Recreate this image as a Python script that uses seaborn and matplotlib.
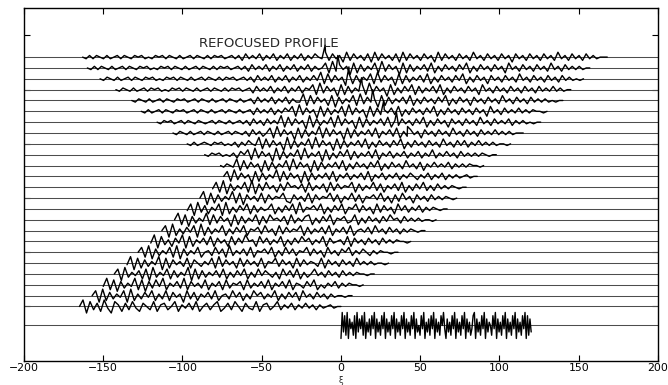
import numpy as np
import pandas as pd
import matplotlib
matplotlib.use("Agg")
import matplotlib.pyplot as plt
import seaborn as sns

# ---------------- data (read / estimated from the reference) ----------------
x_ticks = [-200, -150, -100, -50, 0, 50, 100, 150, 200]
y_ticks = [5, 10, 15, 20, 25, 30]

# random initial profile (bottom)
noise_offset = 3.25
noise_start, noise_end = 0, 120
noise_digits = ("19382917462819374829163728491736284917362849173628491736284917352849"
                "16372849173628594173628491736284917362489173628491736528491736284917"
                "3628491736284918273")

# 24 propagated profiles (bottom -> top)
trace_offsets = [5, 6, 7, 8, 9, 10, 11, 12, 13, 14, 15, 16, 17, 18, 19, 20,
                 21, 22, 23, 24, 25, 26, 27, 28]
trace_starts = [-165, -157, -150, -143, -135, -128, -120, -113, -105, -97, -89, -81,
                -74, -76, -86, -97, -106, -116, -126, -132, -142, -152, -160, -163]
trace_edges = [-165, -157, -150, -143, -135, -128, -120, -113, -105, -97, -89, -81,
               -74, -68, -61, -54, -47, -40, -33, -26, -20, -15, -12, -12]
trace_ends = [0, 7, 14, 21, 30, 36, 44, 53, 60, 67, 73, 79,
              86, 90, 98, 107, 115, 126, 130, 140, 145, 153, 157, 168]

quiet_digits = [
    "", "", "", "", "", "", "", "", "", "", "", "", "",
    "5465",
    "54656454637",
    "54645654656454636475",
    "546546456465464564654637463",
    "54656456465465456465464564637463746",
    "546456465465645646546456465464563746473647",
    "546546456465465645646546456465464563746473647364",
    "5465464564656454656465464564654646564563746473647364736",
    "54654645646546564546564654645646546465645646374647364736473647",
    "5464654645646546564546564654645646546465645646374647364736473647364",
    "546465464564654656454656465464564654646564564637464736473647364736475",
]

main_digits = [
    "591837294186273842753826735826473825736824738527438267358364736474636456455",
    "581927364819263748263827461837264738256384726385736482637472846374636455455",
    "492817364928173849264739274638264728365728364738264738265374825364736465545",
    "581936472819364827364918273647382637482638475362847382635846374637464655455",
    "491827364918274638275364829374628374638265837462837465382746374638464645545",
    "582917364829173648256384729364738265748263847365837462846375836475364655455",
    "491836274918264738274628374956284736482637485736482745638274637463746465545",
    "581926374819273648263748265738462837465827364738264738256473846374636465455",
    "592817364928374618273648273856472836478263748265734826374637485637464645545",
    "481937264819263748273645826374829365748263748265837462837462847364736465455",
    "591827364928174638274658327463827465837264837265748362738462746374646545",
    "482917364829173846273856472836472837465827364837264738263748363746465455",
    "5829374618273649283746182736473826473647382647364736475364736473646456455",
    "492837461827364829374618273647382637463748263746384637264746473646465545",
    "582937461927364829364718263748273647382647364736473648364746374646465455",
    "4928374619273648293746182736473826374637482637463746384637473647464645545",
    "58293746182736492837461827364738264738263746274637463846374637464746464555",
    "492837461927364829374618273647382637463748263746274637463846374647364645455",
    "58293746182736482937461827364738263746374826374637463746284637464746465545",
    "492837462817364829374618273647382637463748263746274637463846374637464645455",
    "582937461827364829374618263748273647382637463746284637463746374637464746455",
    "4928374618273648293746182736473826374637482637462746374638463746374637464545",
    "58293746182736482937461827364738263746374826374637462846374637463846374646455",
    "4837462837463728374637283746374628374637463846374637462746374637463846374637464555",
]

# sharp refocusing peaks on the upper profiles
spike_trace = [16, 17, 18, 19, 20, 21, 22, 23]
spike_x = [42, 35, 27, 20, 13, 5, -2, -10]
spike_h = [0.6, 0.9, 1.0, 1.0, 1.1, 1.1, 1.15, 1.1]

label_text = "REFOCUSED PROFILE"
label_x, label_y = -45.5, 28.95

# ---------------- build table ----------------
TRACE_SCALE = 0.15
NOISE_SCALE = 0.3
rows = []
for k in range(len(trace_offsets)):
    xs, ys = [], []
    q = quiet_digits[k]
    if q:
        xq = np.linspace(trace_starts[k], trace_edges[k], len(q), endpoint=False)
        xs += list(xq)
        ys += [(int(c) - 5) * TRACE_SCALE for c in q]
    m = main_digits[k]
    xm = np.linspace(trace_edges[k], trace_ends[k], len(m))
    xs += list(xm)
    ys += [(int(c) - 5) * TRACE_SCALE for c in m]
    for t, sx, sh in zip(spike_trace, spike_x, spike_h):
        if t == k:
            xs.append(sx)
            ys.append(sh)
    for xv, yv in zip(xs, ys):
        rows.append({"trace": k, "x": xv, "y": trace_offsets[k] + yv})

xn = np.linspace(noise_start, noise_end, len(noise_digits))
for xv, c in zip(xn, noise_digits):
    rows.append({"trace": -1, "x": xv, "y": noise_offset + (int(c) - 5) * NOISE_SCALE})

df = pd.DataFrame(rows)

# ---------------- plot ----------------
sns.set_theme(style="ticks")
plt.rcParams["font.family"] = ["DejaVu Sans"]

fig = plt.figure(figsize=(6.68, 3.85), dpi=100)
ax = fig.add_axes([0.0359, 0.0631, 0.9491, 0.9153])

ax.hlines(trace_offsets + [noise_offset], -200, 200, color="0.3", linewidth=0.75, zorder=1)
sns.lineplot(data=df, x="x", y="y", units="trace", estimator=None, sort=True,
             color="black", linewidth=1.0, ax=ax, zorder=2)

ax.text(label_x, label_y, label_text, ha="center", va="baseline", fontsize=9.5,
        color="0.15")

ax.set_xlim(-200, 200)
ax.set_ylim(0, 32.5)
ax.set_xticks(x_ticks)
ax.set_xticklabels([f"{v}".replace("-", "\u2212") for v in x_ticks])
ax.set_yticks(y_ticks)
ax.set_yticklabels([])
ax.tick_params(direction="in", top=True, right=True, length=4, width=0.8,
               labelsize=7.8, pad=2, colors="black")
ax.set_xlabel("\u03be", fontsize=6)
ax.xaxis.set_label_coords(0.5, -0.044)
ax.set_ylabel("")
for s in ax.spines.values():
    s.set_visible(True)
    s.set_color("black")
    s.set_linewidth(1.0)
ax.set_facecolor("white")
fig.patch.set_facecolor("white")

fig.savefig("out.png", dpi=100)
